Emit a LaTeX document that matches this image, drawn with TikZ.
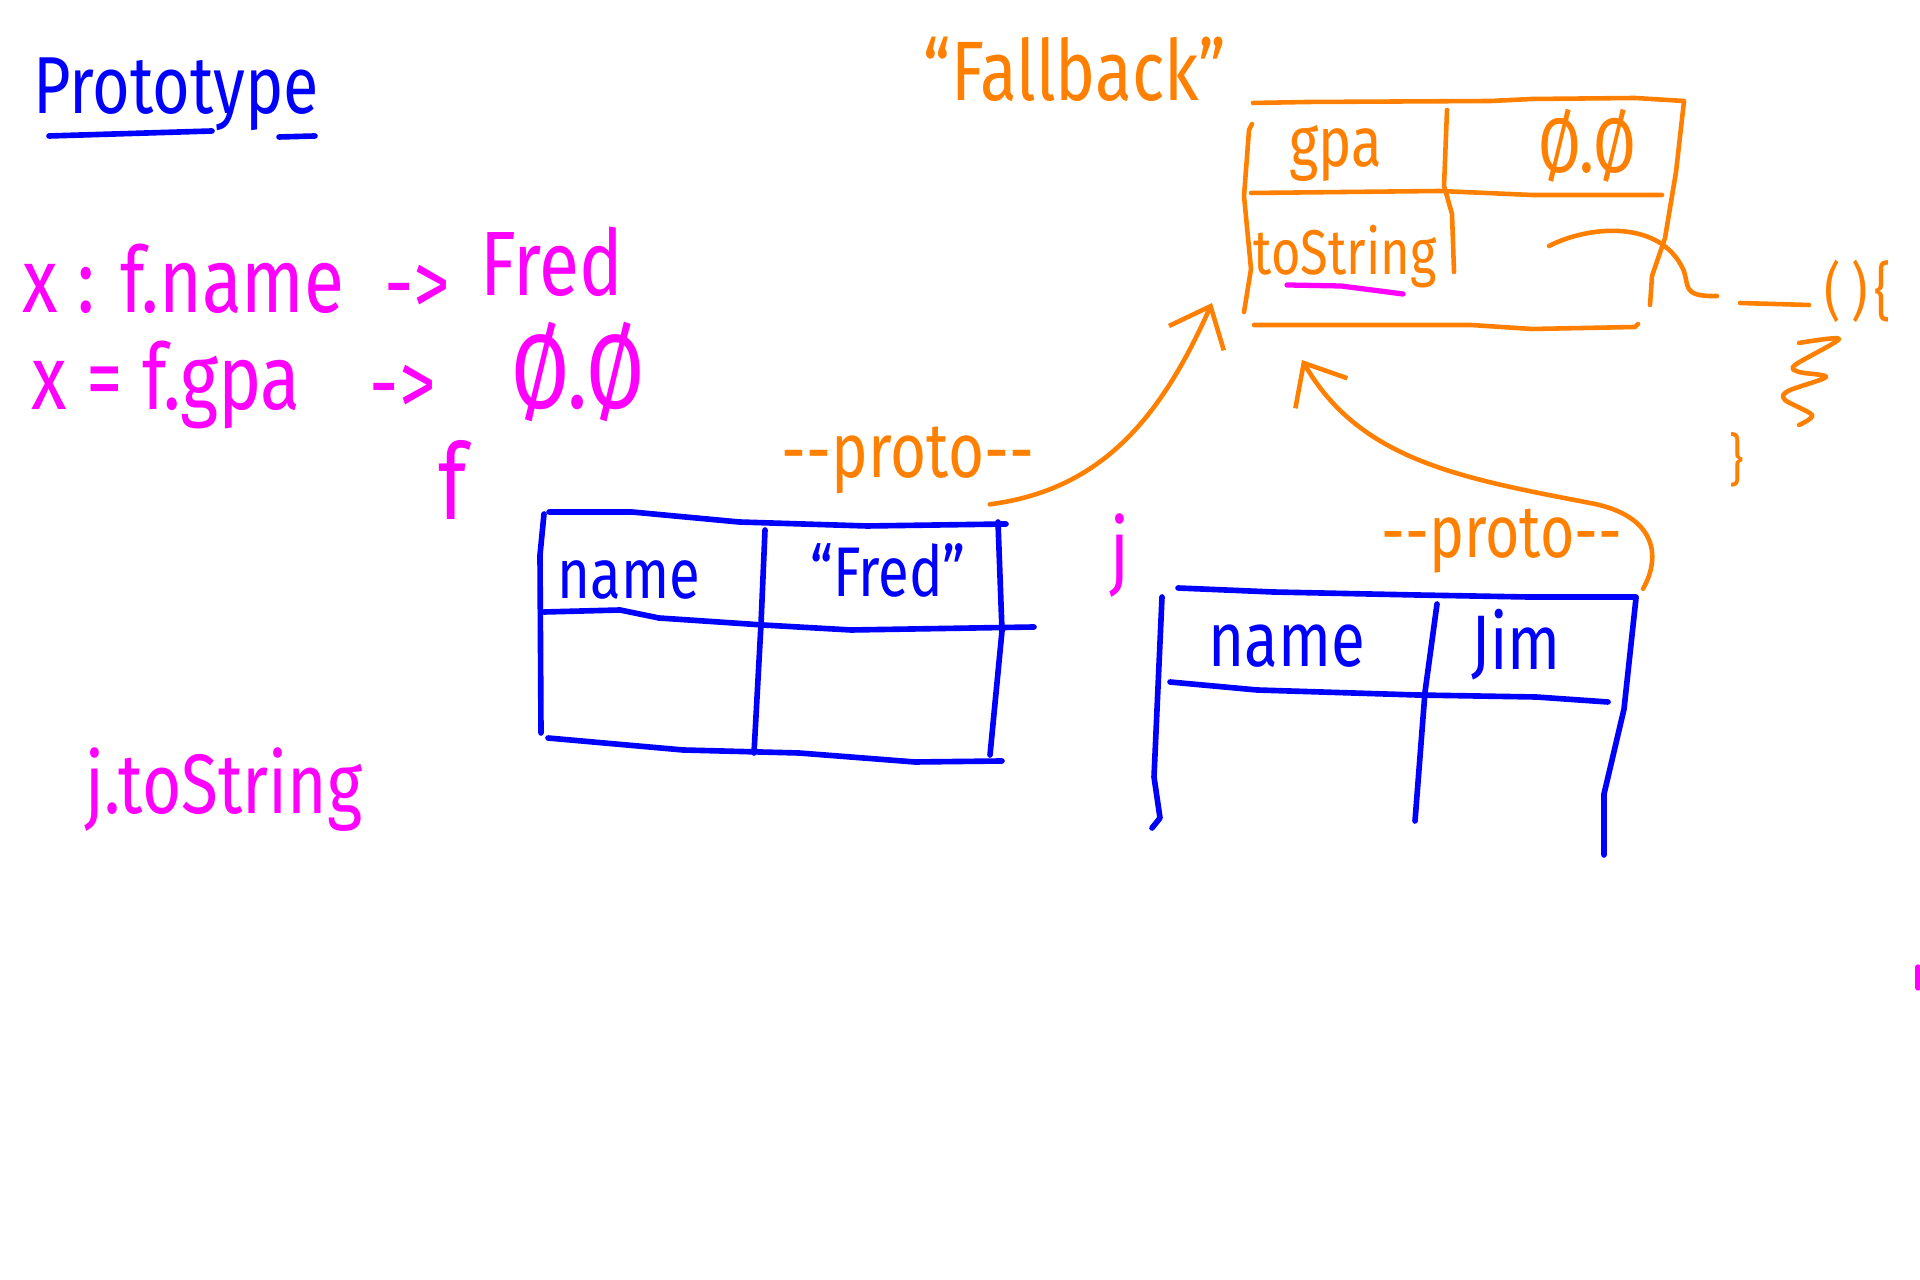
\documentclass[tikz,border=0pt]{standalone}
\usepackage{fontspec}
\setmainfont{Fira Sans}[FakeStretch=0.8]
\usepackage{xcolor}
\usetikzlibrary{arrows.meta,positioning}

\definecolor{penblue}{HTML}{0000FF}
\definecolor{penpink}{HTML}{FF00FF}
\definecolor{penorange}{HTML}{FF8000}
\newcommand{\penfont}[1]{\fontsize{#1}{#1}\selectfont}

\begin{document}
\begin{tikzpicture}[>={Straight Barb[length=3.5mm,width=6mm]},
    line cap=round, line join=round,
    bluepen/.style={draw=penblue, line width=1.6pt},
    orangepen/.style={draw=penorange, line width=1.3pt},
    pinkpen/.style={draw=penpink, line width=1.5pt},
    blueink/.style={text=penblue, inner sep=0pt},
    orangeink/.style={text=penorange, inner sep=0pt},
    pinkink/.style={text=penpink, inner sep=0pt}]
  \useasboundingbox[fill=white] (0,0) rectangle (19.2,-12.8);

  % title
  \node[blueink, anchor=base] (title) at (1.76,-1.14) {\penfont{23}Prototype};
  \draw[bluepen] (0.49,-1.36) -- (2.12,-1.31) (2.79,-1.37) -- (3.15,-1.36);

  % lookups
  \node[pinkink, anchor=base west] (get1) at (0.22,-3.13) {\penfont{26}x : f.name};
  \node[pinkink] (to1) at (4.17,-2.90) {\penfont{26}->};
  \node[pinkink, anchor=base] (res1) at (5.52,-2.96) {\penfont{26}Fred};
  \node[pinkink, anchor=base west] (get2) at (0.31,-4.10) {\penfont{26}x = f.gpa};
  \node[pinkink] (to2) at (4.03,-3.90) {\penfont{26}->};
  \node[pinkink] (res2) at (5.78,-3.72) {\penfont{30}Ø.Ø};
  \node[pinkink] (fvar) at (4.53,-4.80) {\penfont{30}f};
  \node[pinkink] (jvar) at (11.20,-5.56) {\penfont{24}j};
  \node[pinkink] (call) at (2.24,-7.90) {\penfont{24}j.toString};
  \draw[pinkpen] (19.18,-9.67) -- (19.18,-9.88);

  % fallback object
  \node[orangeink] (fallback) at (10.75,-0.69) {\penfont{24}``Fallback''};
  \draw[orangepen] (12.53,-1.03) -- (13.07,-1.02) -- (14.91,-1.01) -- (15.32,-0.99) -- (16.35,-0.98) -- (16.84,-1.01)
    -- (16.76,-1.72) -- (16.65,-2.38) -- (16.52,-2.76) -- (16.50,-3.05);
  \draw[orangepen] (12.52,-1.24) -- (12.49,-1.30) -- (12.44,-1.96) -- (12.51,-2.69) -- (12.44,-3.12);
  \draw[orangepen] (12.51,-1.93) -- (14.40,-1.91) -- (15.32,-1.95) -- (16.62,-1.95);
  \draw[orangepen] (14.47,-1.10) -- (14.44,-1.86) -- (14.52,-2.14) -- (14.54,-2.72);
  \draw[orangepen] (12.54,-3.25) -- (14.71,-3.25) -- (15.32,-3.29) -- (16.35,-3.27) -- (16.38,-3.24);
  \node[orangeink] (gpakey) at (13.36,-1.53) {\penfont{20}gpa};
  \node[orangeink] (gpaval) at (15.87,-1.46) {\penfont{22}Ø.Ø};
  \node[orangeink] (tostr) at (13.45,-2.57) {\penfont{18}toString};
  \draw[pinkpen] (12.87,-2.85) -- (13.41,-2.86) -- (14.03,-2.94);

  % function body
  \coordinate (fnslot) at (15.49,-2.46);
  \node[orangeink] (parens) at (18.46,-2.91) {\penfont{18}(\,)};
  \node[orangeink, right=0.5mm of parens] (lbrace) {\penfont{18}\{};
  \node[orangeink] (rbrace) at (17.37,-4.60) {\penfont{16}\}};
  \draw[orangepen] (fnslot) .. controls (15.9,-2.25) and (16.6,-2.2) .. (16.83,-2.69)
    .. controls (16.9,-2.85) and (16.8,-2.97) .. (17.17,-2.96);
  \draw[orangepen] (17.40,-3.03) -- (18.09,-3.05);
  \draw[orangepen] plot[smooth] coordinates {(17.99,-3.43) (18.39,-3.39) (17.95,-3.65) (17.99,-3.72)
    (18.26,-3.77) (17.88,-3.91) (17.85,-4.00) (18.12,-4.15) (17.99,-4.25)};

  % object f
  \draw[bluepen] (5.49,-5.12) -- (6.32,-5.12) -- (7.39,-5.22) -- (8.67,-5.26) -- (10.06,-5.24);
  \draw[bluepen] (5.44,-5.14) -- (5.40,-5.55) -- (5.41,-7.33);
  \draw[bluepen] (5.44,-6.12) -- (6.20,-6.10) -- (6.59,-6.18) -- (7.63,-6.25) -- (8.51,-6.30) -- (10.34,-6.27);
  \draw[bluepen] (7.65,-5.30) -- (7.61,-6.24) -- (7.54,-7.53);
  \draw[bluepen] (9.98,-5.22) -- (10.02,-6.31) -- (9.90,-7.55);
  \draw[bluepen] (5.48,-7.38) -- (6.83,-7.50) -- (7.99,-7.53) -- (9.15,-7.62) -- (10.02,-7.61);
  \node[blueink] (fkey) at (6.29,-5.80) {\penfont{20}name};
  \node[blueink] (fval) at (8.88,-5.70) {\penfont{20}``Fred''};

  % object j
  \draw[bluepen] (11.78,-5.88) -- (12.73,-5.92) -- (14.17,-5.95) -- (15.28,-5.97) -- (16.36,-5.97);
  \draw[bluepen] (11.62,-5.97) -- (11.54,-7.77) -- (11.60,-8.18) -- (11.52,-8.28);
  \draw[bluepen] (14.37,-6.04) -- (14.25,-6.92) -- (14.15,-8.21);
  \draw[bluepen] (16.36,-5.98) -- (16.24,-7.09) -- (16.04,-7.94) -- (16.04,-8.55);
  \draw[bluepen] (11.70,-6.82) -- (12.57,-6.90) -- (14.17,-6.95) -- (15.36,-6.97) -- (16.08,-7.02);
  \node[blueink] (jkey) at (12.87,-6.46) {\penfont{22}name};
  \node[blueink] (jval) at (15.16,-6.45) {\penfont{22}Jim};

  % proto links
  \node[orangeink] (proto1) at (9.08,-4.60) {\penfont{22}-{}-proto-{}-};
  \node[orangeink] (proto2) at (15.02,-5.41) {\penfont{21}-{}-proto-{}-};
  \coordinate (fb1) at (12.12,-3.03);
  \coordinate (fb2) at (13.02,-3.60);
  \draw[orangepen, ->] ([xshift=-4.5mm,yshift=-1mm]proto1.south east) .. controls (11.0,-4.9) and (11.6,-4.2) .. (fb1);
  \draw[orangepen, ->] ([xshift=2mm,yshift=-1.5mm]proto2.south east) .. controls (16.62,-5.55) and (16.55,-5.15) .. (15.90,-5.03)
    .. controls (14.6,-4.78) and (13.6,-4.6) .. (fb2);
\end{tikzpicture}
\end{document}
